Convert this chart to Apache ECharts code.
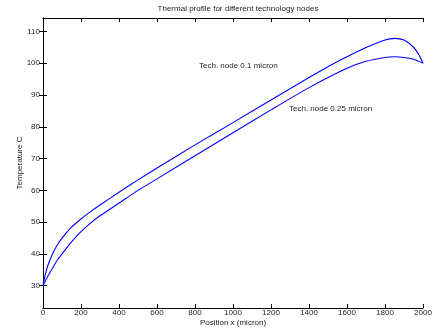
<!DOCTYPE html>
<html lang="en">
<head>
    <meta charset="UTF-8">
    <title>Thermal profile</title>
    <script src="https://cdn.jsdelivr.net/npm/echarts@6.0.0/dist/echarts.min.js"></script>
</head>
<body style="margin:0">
<div id="chart" style="width:438px;height:330px"></div>
<script>
// position along x (micron)
const posNode01 = [0, 10, 25, 50, 75, 100, 150, 200, 250, 300, 400, 500, 600, 800, 1000, 1200, 1400, 1500, 1600, 1700, 1800, 1850, 1900, 1950, 1980, 2000]
const tempNode01 = [30, 33, 36.3, 40, 42.8, 45, 48.4, 51, 53.3, 55.4, 59.4, 63.3, 67, 74.3, 81.3, 88.4, 95.5, 98.9, 102, 104.9, 107.3, 107.8, 107.3, 105, 102.5, 100]

const posNode025 = [0, 25, 50, 75, 100, 150, 200, 250, 300, 400, 500, 600, 800, 1000, 1200, 1400, 1600, 1700, 1800, 1850, 1900, 1950, 2000]
const tempNode025 = [30, 33, 35.5, 38, 40, 43.8, 47, 49.7, 52, 56, 60, 63.6, 70.9, 78.1, 85.3, 92.3, 98.4, 100.6, 101.8, 102, 101.8, 101.2, 100]

const yTicks = [30, 40, 50, 60, 70, 80, 90, 100, 110]

const font = 'Liberation Sans, Arial, sans-serif'

const pairs = (xs, ys) => xs.map((x, i) => [x, ys[i]])

const chart = echarts.init(document.getElementById('chart'))
const axisLine = { show: true, lineStyle: { color: '#000', width: 1 } }
const tickIn = { show: true, inside: true, length: 4, lineStyle: { color: '#000' } }
const tickInCustom = { show: true, inside: true, length: 4, customValues: yTicks, lineStyle: { color: '#000' } }

chart.setOption({
    animation: false,
    backgroundColor: '#fff',
    title: {
        text: 'Thermal profile for different technology nodes',
        left: 233, top: 0, textAlign: 'center',
        textStyle: { fontSize: 8, fontWeight: 'normal', color: '#222', fontFamily: font }
    },
    grid: { left: 43, right: 15, top: 18, bottom: 22, outerBoundsMode: 'none', containLabel: false },
    xAxis: [
        {
            type: 'value', min: 0, max: 2000, interval: 200, position: 'bottom',
            name: 'Position x (micron)', nameLocation: 'middle', nameGap: 11, nameMoveOverlap: false,
            nameTextStyle: { fontSize: 8, color: '#222', fontFamily: font },
            axisLine: axisLine, axisTick: tickIn, splitLine: { show: false },
            axisLabel: { fontSize: 8, color: '#222', margin: 1, fontFamily: font, formatter: v => String(v) }
        },
        {
            type: 'value', min: 0, max: 2000, interval: 200, position: 'top',
            axisLine: axisLine, axisTick: tickIn, splitLine: { show: false },
            axisLabel: { show: false }
        }
    ],
    yAxis: [
        {
            type: 'value', min: 23, max: 114.2, position: 'left',
            name: 'Temperature C', nameLocation: 'middle', nameGap: 19, nameMoveOverlap: false,
            nameTextStyle: { fontSize: 8, color: '#222', fontFamily: font },
            axisLine: axisLine, axisTick: tickInCustom, splitLine: { show: false },
            axisLabel: { customValues: yTicks, fontSize: 8, color: '#222', margin: 3, fontFamily: font }
        },
        {
            type: 'value', min: 23, max: 114.2, position: 'right',
            axisLine: axisLine, axisTick: tickInCustom, splitLine: { show: false },
            axisLabel: { show: false }
        }
    ],
    graphic: [
        {
            type: 'text', left: 199, top: 62,
            style: { text: 'Tech. node 0.1 micron', fill: '#222', font: '8px ' + font }
        },
        {
            type: 'text', left: 289, top: 105,
            style: { text: 'Tech. node 0.25 micron', fill: '#222', font: '8px ' + font }
        }
    ],
    series: [
        {
            name: 'Tech. node 0.1 micron', type: 'line', smooth: 0.2,
            data: pairs(posNode01, tempNode01), showSymbol: false,
            lineStyle: { color: '#0000ff', width: 1.1 }
        },
        {
            name: 'Tech. node 0.25 micron', type: 'line', smooth: 0.2,
            data: pairs(posNode025, tempNode025), showSymbol: false,
            lineStyle: { color: '#0000ff', width: 1.1 }
        }
    ]
})
</script>
</body>
</html>
